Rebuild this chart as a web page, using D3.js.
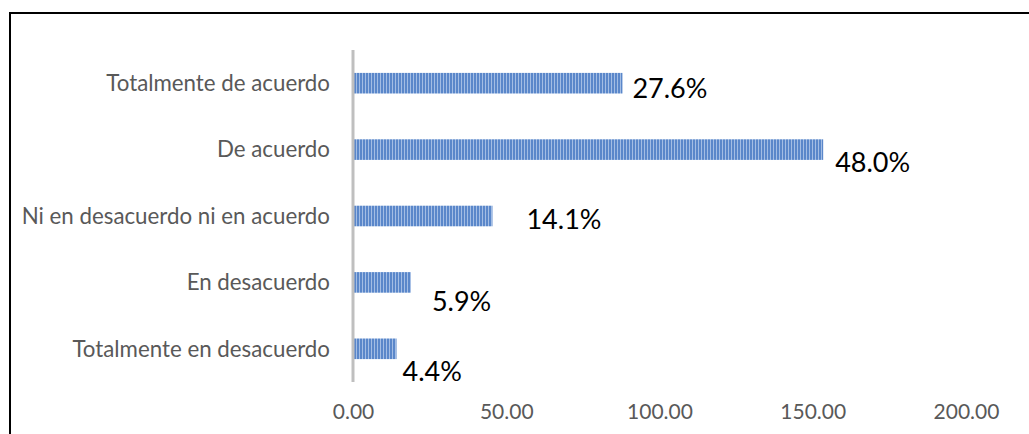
<!DOCTYPE html>
<html>
<head>
<meta charset="utf-8">
<script src="https://cdn.jsdelivr.net/npm/d3@7.9.0/dist/d3.min.js"></script>
<style>
  html, body { margin: 0; padding: 0; background: #fff; }
  svg { display: block; font-family: Lato, 'Noto Sans', sans-serif; }
</style>
</head>
<body>
<svg id="chart" width="1029" height="434"></svg>
<script>
const categories = [
  'Totalmente de acuerdo',
  'De acuerdo',
  'Ni en desacuerdo ni en acuerdo',
  'En desacuerdo',
  'Totalmente en desacuerdo',
];
const values = [87.9, 153.4, 45.5, 18.9, 14.2];
const percentLabels = ['27.6%', '48.0%', '14.1%', '5.9%', '4.4%'];
const xTicks = [0, 50, 100, 150, 200];

// label nudges (the original labels were moved by hand)
const labelDx = [10, 12, 34, 21, 6];
const labelDy = [5, 13, 4, 19, 23];

const svg = d3.select('#chart');

// outer frame
svg.append('rect')
  .attr('x', 10).attr('y', 13)
  .attr('width', 1040).attr('height', 440)
  .attr('fill', 'none').attr('stroke', '#000').attr('stroke-width', 2);

const x = d3.scaleLinear().domain([0, 200]).range([353, 966]);
const y = d3.scaleBand().domain(categories).range([50, 382])
  .paddingInner(0.69).paddingOuter(0.345);

// striped fill
const defs = svg.append('defs');
const pat = defs.append('pattern')
  .attr('id', 'stripes').attr('patternUnits', 'userSpaceOnUse')
  .attr('width', 3).attr('height', 10);
pat.append('rect').attr('width', 3).attr('height', 10).attr('fill', '#a3bde4');
pat.append('rect').attr('width', 2).attr('height', 10).attr('fill', '#5a87ca');

svg.append('g')
  .selectAll('rect')
  .data(categories)
  .join('rect')
  .attr('x', x(0))
  .attr('y', (d) => y(d))
  .attr('width', (d, i) => x(values[i]) - x(0))
  .attr('height', y.bandwidth())
  .attr('fill', 'url(#stripes)');

// vertical axis line
svg.append('line')
  .attr('x1', x(0)).attr('x2', x(0))
  .attr('y1', 50).attr('y2', 382)
  .attr('stroke', '#bfbfbf').attr('stroke-width', 3);

// category labels
svg.append('g')
  .selectAll('text')
  .data(categories)
  .join('text')
  .attr('x', 330)
  .attr('y', (d) => y(d) + y.bandwidth() / 2)
  .attr('dy', '0.35em')
  .attr('text-anchor', 'end')
  .attr('fill', '#595959')
  .attr('font-size', 22.3)
  .text((d) => d);

// data labels
svg.append('g')
  .selectAll('text')
  .data(categories)
  .join('text')
  .attr('x', (d, i) => x(values[i]) + labelDx[i])
  .attr('y', (d, i) => y(d) + y.bandwidth() / 2 + labelDy[i])
  .attr('dy', '0.35em')
  .attr('fill', '#000')
  .attr('font-size', 27)
  .text((d, i) => percentLabels[i]);

// x axis tick labels
const xAxis = d3.axisBottom(x).tickValues(xTicks).tickFormat(d3.format('.2f')).tickSize(0);
const gx = svg.append('g').attr('transform', 'translate(0,401)').call(xAxis);
gx.select('.domain').remove();
gx.selectAll('text')
  .attr('fill', '#595959')
  .attr('font-size', 21)
  .attr('font-family', 'Lato, sans-serif');
</script>
</body>
</html>
